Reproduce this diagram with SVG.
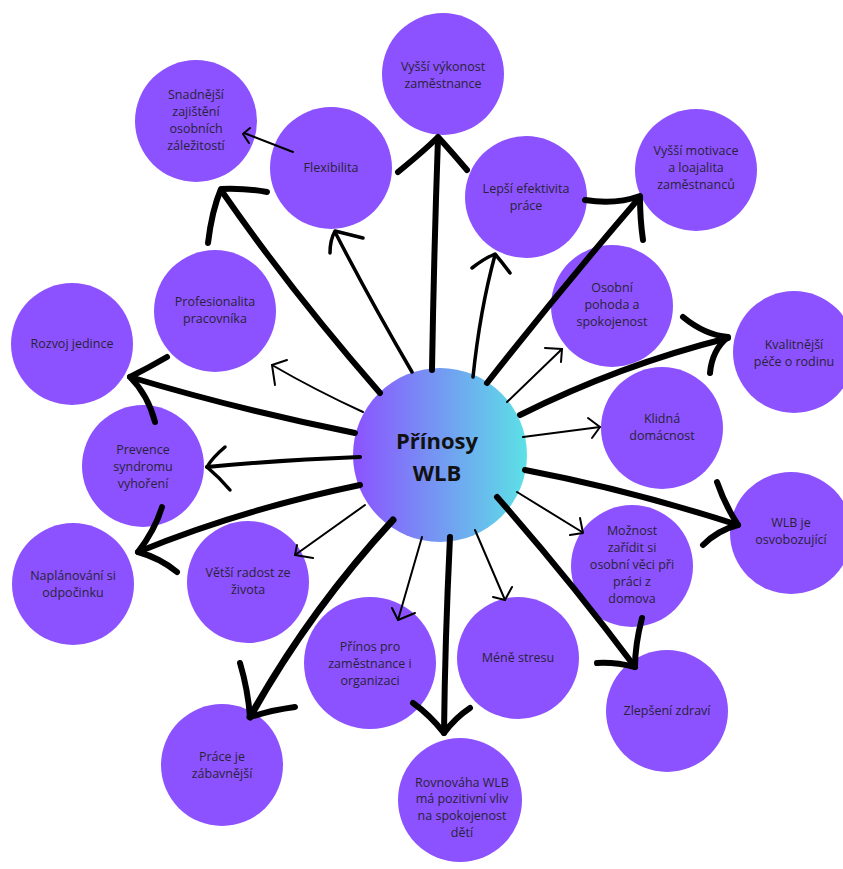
<svg xmlns="http://www.w3.org/2000/svg" width="843" height="869" viewBox="0 0 843 869">
<defs>
<linearGradient id="cg" x1="0" y1="0" x2="1" y2="0">
<stop offset="0" stop-color="#8c52ff"/>
<stop offset="1" stop-color="#5ce1e6"/>
</linearGradient>
</defs>
<style>
.n{fill:#8c52ff}
.t{font-family:"Open Sans","Noto Sans","Liberation Sans",sans-serif;font-size:12.5px;fill:#2a2238;text-anchor:middle}
.h{font-family:"Open Sans","Noto Sans","Liberation Sans",sans-serif;font-size:22px;font-weight:bold;fill:#111;text-anchor:middle}
.c path{fill:none;stroke:#000;stroke-linecap:round;stroke-linejoin:round}
.k{stroke-width:6}
.m{stroke-width:3.5}
.s{stroke-width:2}
</style>
<rect width="843" height="869" fill="#fff"/>
<g id="n1"><circle class="n" cx="443" cy="74" r="61"/><text class="t" x="443" y="71">Vyšší výkonost</text><text class="t" x="443" y="88">zaměstnance</text></g>
<g id="n2"><circle class="n" cx="196" cy="121" r="61"/><text class="t" x="196" y="99">Snadnější</text><text class="t" x="196" y="116">zajištění</text><text class="t" x="196" y="133">osobních</text><text class="t" x="196" y="150">záležitostí</text></g>
<g id="n3"><circle class="n" cx="331" cy="168" r="61"/><text class="t" x="331" y="172">Flexibilita</text></g>
<g id="n4"><circle class="n" cx="526" cy="197" r="61"/><text class="t" x="526" y="193">Lepší efektivita</text><text class="t" x="526" y="210">práce</text></g>
<g id="n5"><circle class="n" cx="696" cy="170" r="61"/><text class="t" x="696" y="155">Vyšší motivace</text><text class="t" x="696" y="172">a loajalita</text><text class="t" x="696" y="189">zaměstnanců</text></g>
<g id="n6"><circle class="n" cx="612" cy="306" r="61"/><text class="t" x="612" y="292">Osobní</text><text class="t" x="612" y="309">pohoda a</text><text class="t" x="612" y="326">spokojenost</text></g>
<g id="n7"><circle class="n" cx="794" cy="352" r="61"/><text class="t" x="794" y="349">Kvalitnější</text><text class="t" x="794" y="366">péče o rodinu</text></g>
<g id="n8"><circle class="n" cx="662" cy="428" r="61"/><text class="t" x="662" y="423">Klidná</text><text class="t" x="662" y="440">domácnost</text></g>
<g id="n9"><circle class="n" cx="791" cy="533" r="61"/><text class="t" x="791" y="527">WLB je</text><text class="t" x="791" y="544">osvobozující</text></g>
<g id="n10"><circle class="n" cx="632" cy="566" r="61"/><text class="t" x="632" y="535">Možnost</text><text class="t" x="632" y="552">zařídit si</text><text class="t" x="632" y="569">osobní věci při</text><text class="t" x="632" y="586">práci z</text><text class="t" x="632" y="603">domova</text></g>
<g id="n11"><circle class="n" cx="667" cy="711" r="61"/><text class="t" x="667" y="715">Zlepšení zdraví</text></g>
<g id="n12"><circle class="n" cx="518" cy="658" r="61"/><text class="t" x="518" y="662">Méně stresu</text></g>
<g id="n13"><circle class="n" cx="460" cy="800" r="62"/><text class="t" x="462" y="787">Rovnováha WLB</text><text class="t" x="462" y="803">má pozitivní vliv</text><text class="t" x="462" y="820">na spokojenost</text><text class="t" x="462" y="837">dětí</text></g>
<g id="n14"><circle class="n" cx="370" cy="663" r="66"/><text class="t" x="370" y="651">Přínos pro</text><text class="t" x="370" y="668">zaměstnance i</text><text class="t" x="370" y="685">organizaci</text></g>
<g id="n15"><circle class="n" cx="248" cy="582" r="61"/><text class="t" x="248" y="577">Větší radost ze</text><text class="t" x="248" y="594">života</text></g>
<g id="n16"><circle class="n" cx="222" cy="765" r="61"/><text class="t" x="222" y="761">Práce je</text><text class="t" x="222" y="778">zábavnější</text></g>
<g id="n17"><circle class="n" cx="73" cy="584" r="61"/><text class="t" x="73" y="580">Naplánování si</text><text class="t" x="73" y="597">odpočinku</text></g>
<g id="n18"><circle class="n" cx="143" cy="466" r="61"/><text class="t" x="143" y="454">Prevence</text><text class="t" x="143" y="471">syndromu</text><text class="t" x="143" y="488">vyhoření</text></g>
<g id="n19"><circle class="n" cx="72" cy="344" r="61"/><text class="t" x="72" y="348">Rozvoj jedince</text></g>
<g id="n20"><circle class="n" cx="215" cy="311" r="61"/><text class="t" x="215" y="306">Profesionalita</text><text class="t" x="215" y="323">pracovníka</text></g>
<g id="center"><circle cx="440" cy="455" r="87" fill="url(#cg)"/><text class="h" x="437" y="449">Přínosy</text><text class="h" x="437" y="481">WLB</text></g>
<g id="connectors" class="c">
<path class="k" d="M432,370 Q434,250 438,138"/><path class="k" d="M398,172 Q425,150 438,137 Q450,150 467,170"/>
<path class="m" d="M412,372 Q370,300 335,232"/><path class="m" d="M330,253 Q330,240 335,231 L363,238"/>
<path class="k" d="M380,393 Q290,290 221,190"/><path class="k" d="M208,243 Q212,210 221,189 Q245,188 267,192"/>
<path class="s" d="M293,152 L244,133"/><path class="s" d="M250,128 L243,134 L249,143"/>
<path class="m" d="M473,377 Q480,310 495,255"/><path class="m" d="M472,268 Q485,258 495,254 Q502,262 510,273"/>
<path class="k" d="M487,383 Q560,290 640,197"/><path class="k" d="M585,200 Q615,205 640,196 Q640,220 643,240"/>
<path class="s" d="M507,402 L562,349"/><path class="s" d="M545,348 L562,349 L561,362"/>
<path class="k" d="M520,415 Q620,365 728,338"/><path class="k" d="M683,317 Q705,335 728,337 Q712,350 710,373"/>
<path class="s" d="M523,437 L600,427"/><path class="s" d="M588,418 L600,427 L592,438"/>
<path class="k" d="M525,470 Q630,490 738,525"/><path class="k" d="M717,482 Q725,505 738,525 Q718,530 703,545"/>
<path class="s" d="M517,492 L582,532"/><path class="s" d="M580,518 L583,533 L570,535"/>
<path class="k" d="M497,497 Q570,580 635,667"/><path class="k" d="M642,618 Q635,645 635,667 Q615,662 597,663"/>
<path class="s" d="M475,530 L505,600"/><path class="s" d="M493,597 L505,600 L512,587"/>
<path class="k" d="M450,537 Q445,640 444,733"/><path class="k" d="M413,703 Q430,715 444,733 Q455,718 470,708"/>
<path class="s" d="M422,537 L398,620"/><path class="s" d="M392,608 L398,620 L415,613"/>
<path class="k" style="stroke-width:7" d="M393,520 Q310,610 250,717"/><path class="k" d="M240,663 Q248,690 250,717 Q272,710 295,707"/>
<path class="s" d="M365,505 L295,555"/><path class="s" d="M297,545 L295,555 L313,558"/>
<path class="k" d="M360,485 Q240,510 138,552"/><path class="k" d="M162,507 Q155,530 138,552 Q160,558 177,572"/>
<path class="m" style="stroke-width:4" d="M360,457 Q280,460 207,467"/><path class="m" d="M225,447 Q212,458 207,467 Q220,478 230,490"/>
<path class="k" d="M355,433 Q240,410 130,377"/><path class="k" d="M167,357 Q148,368 130,377 Q148,395 155,422"/>
<path class="s" d="M363,412 Q315,390 272,365"/><path class="s" d="M287,360 L272,365 L275,385"/>
</g>
</svg>
